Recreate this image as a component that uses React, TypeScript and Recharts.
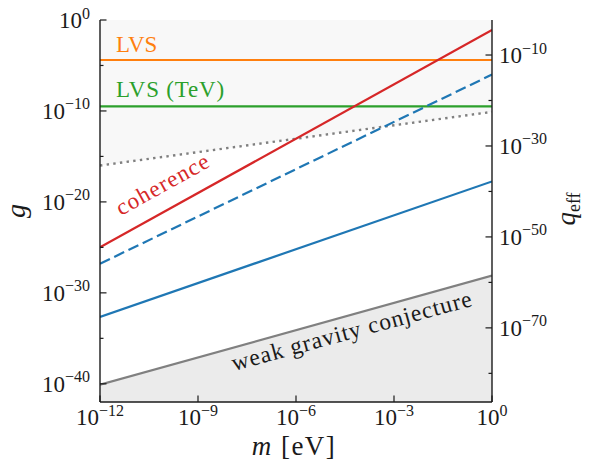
import React from "react";
import { ComposedChart, Line, Area, XAxis, YAxis } from "recharts";

// exponents (log10)
const logMass = [-12, 0];
const coherence = [-25.0, -1.1];
const blueDashed = [-26.8, -6.0];
const blueSolid = [-32.65, -17.75];
const weakGravity = [-40.1, -28.1];
const dottedBound = [-16.0, -10.1];
const lvs = [-4.4, -4.4];
const lvsTeV = [-9.5, -9.5];

const xTicks = [-12, -9, -6, -3, 0];
const gTicks = [0, -5, -10, -15, -20, -25, -30, -35, -40];
const qTicks = [-10, -20, -30, -40, -50, -60, -70, -80];
const gDomain = [-42, 0];
const qDomain = [-86.3, -2.3];

const rows = logMass.map((m, i) => ({
  logM: m,
  coherence: coherence[i],
  blueDashed: blueDashed[i],
  blueSolid: blueSolid[i],
  wgc: weakGravity[i],
  dotted: dottedBound[i],
  lvs: lvs[i],
  lvsTeV: lvsTeV[i],
}));

const INK = "#1a1a1a";
const fs = { fontFamily: '"Liberation Serif"' };
const fsi = { fontFamily: '"Liberation Serif"', fontStyle: "italic" as const };

const Pow = ({ exp, x, y, anchor }: { exp: number; x: number; y: number; anchor: string }) => (
  <text x={x} y={y} textAnchor={anchor} style={fs} fill={INK}>
    <tspan fontSize={23} style={fs}>10</tspan>
    <tspan fontSize={16} dy={-9.5} style={fs}>{exp < 0 ? "\u2212" + Math.abs(exp) : String(exp)}</tspan>
  </text>
);

const LeftTick = (props: any) => {
  const { x, y, payload } = props;
  const v = payload.value;
  const major = v % 10 === 0;
  return (
    <g>
      <line x1={x} x2={x + (major ? 6.5 : 3.5)} y1={y} y2={y} stroke={INK} strokeWidth={1.2} />
      {major && <Pow exp={v} x={x - 10} y={y + 8} anchor="end" />}
    </g>
  );
};

const RightTick = (props: any) => {
  const { x, y, payload } = props;
  const v = payload.value;
  const major = (v + 10) % 20 === 0;
  return (
    <g>
      <line x1={x} x2={x - (major ? 6.5 : 3.5)} y1={y} y2={y} stroke={INK} strokeWidth={1.2} />
      {major && <Pow exp={v} x={x + 7} y={y + 8} anchor="start" />}
    </g>
  );
};

const BottomTick = (props: any) => {
  const { x, y, payload } = props;
  return (
    <g>
      <line x1={x} x2={x} y1={y} y2={y - 6.5} stroke={INK} strokeWidth={1.2} />
      <Pow exp={payload.value} x={x} y={y + 23} anchor="middle" />
    </g>
  );
};

const TopTick = (props: any) => {
  const { x, y } = props;
  return <line x1={x} x2={x} y1={y} y2={y + 6.5} stroke={INK} strokeWidth={1.2} />;
};

const axisLine = { stroke: INK, strokeWidth: 1.4 };

export default function App() {
  return (
    <div style={{ position: "absolute", left: 0, top: 0, width: 593, height: 464, background: "#fff" }}>
      <ComposedChart width={593} height={464} data={rows} margin={{ top: 20, right: 0, bottom: 0, left: 0 }}>
        <XAxis
          xAxisId="bottom"
          dataKey="logM"
          type="number"
          domain={[-12, 0]}
          ticks={xTicks}
          interval={0}
          height={62}
          tickLine={false}
          tickSize={0}
          tickMargin={0}
          tick={BottomTick}
          axisLine={axisLine}
          allowDataOverflow
        />
        <XAxis
          xAxisId="top"
          orientation="top"
          dataKey="logM"
          type="number"
          domain={[-12, 0]}
          ticks={xTicks}
          interval={0}
          height={0}
          tickLine={false}
          tickSize={0}
          tickMargin={0}
          tick={TopTick}
          axisLine={axisLine}
          allowDataOverflow
        />
        <YAxis
          yAxisId="left"
          type="number"
          domain={gDomain}
          ticks={gTicks}
          interval={0}
          width={100}
          tickLine={false}
          tickSize={0}
          tickMargin={0}
          tick={LeftTick}
          axisLine={axisLine}
          allowDataOverflow
        />
        <YAxis
          yAxisId="right"
          orientation="right"
          type="number"
          domain={qDomain}
          ticks={qTicks}
          interval={0}
          width={101}
          tickLine={false}
          tickSize={0}
          tickMargin={0}
          tick={RightTick}
          axisLine={axisLine}
          allowDataOverflow
        />
        <Area
          xAxisId="bottom"
          yAxisId="left"
          dataKey="dotted"
          baseValue={0}
          fill="#f8f8f8"
          fillOpacity={1}
          stroke="none"
          isAnimationActive={false}
        />
        <Area
          xAxisId="bottom"
          yAxisId="left"
          dataKey="wgc"
          baseValue={-42}
          fill="#ebebeb"
          fillOpacity={1}
          stroke="none"
          isAnimationActive={false}
        />
        <Line xAxisId="bottom" yAxisId="left" dataKey="dotted" stroke="#808080" strokeWidth={2.4} strokeDasharray="2.4 4.3" dot={false} isAnimationActive={false} />
        <Line xAxisId="bottom" yAxisId="left" dataKey="wgc" stroke="#808080" strokeWidth={2.2} dot={false} isAnimationActive={false} />
        <Line xAxisId="bottom" yAxisId="left" dataKey="lvs" stroke="#ff7f0e" strokeWidth={2.2} dot={false} isAnimationActive={false} />
        <Line xAxisId="bottom" yAxisId="left" dataKey="lvsTeV" stroke="#2ca02c" strokeWidth={2.2} dot={false} isAnimationActive={false} />
        <Line xAxisId="bottom" yAxisId="left" dataKey="blueSolid" stroke="#1f77b4" strokeWidth={2.2} dot={false} isAnimationActive={false} />
        <Line xAxisId="bottom" yAxisId="left" dataKey="blueDashed" stroke="#1f77b4" strokeWidth={2.2} strokeDasharray="11 4.8" dot={false} isAnimationActive={false} />
        <Line xAxisId="bottom" yAxisId="left" dataKey="coherence" stroke="#d62728" strokeWidth={2.2} dot={false} isAnimationActive={false} />
      </ComposedChart>
      <svg
        width={593}
        height={464}
        style={{ position: "absolute", left: 0, top: 0, pointerEvents: "none" }}
      >
        <text x={116} y={52} fontSize={23} fill="#ff7f0e" style={fs}>LVS</text>
        <text x={116} y={96.5} fontSize={23} fill="#2ca02c" letterSpacing={0.8} style={fs}>LVS (TeV)</text>
        <text transform="translate(121,216) rotate(-29)" fontSize={23} fill="#d62728" letterSpacing={1.2} style={fs}>
          coherence
        </text>
        <text transform="translate(234,371) rotate(-15.3)" fontSize={23.5} fill={INK} letterSpacing={1.0} style={fs}>
          weak gravity conjecture
        </text>
        <text transform="translate(25,211) rotate(-90)" textAnchor="middle" fontSize={28} fill={INK} style={fsi}>
          g
        </text>
        <text transform="translate(575,209) rotate(-90)" textAnchor="middle" fill={INK} style={fs}>
          <tspan fontSize={27} style={fsi}>q</tspan>
          <tspan fontSize={18} dy={5} style={fs}>eff</tspan>
        </text>
        <text x={294} y={455} textAnchor="middle" fontSize={27} fill={INK} letterSpacing={1.5} style={fs}>
          <tspan style={fsi}>m</tspan>
          <tspan style={fs}> [eV]</tspan>
        </text>
      </svg>
    </div>
  );
}
